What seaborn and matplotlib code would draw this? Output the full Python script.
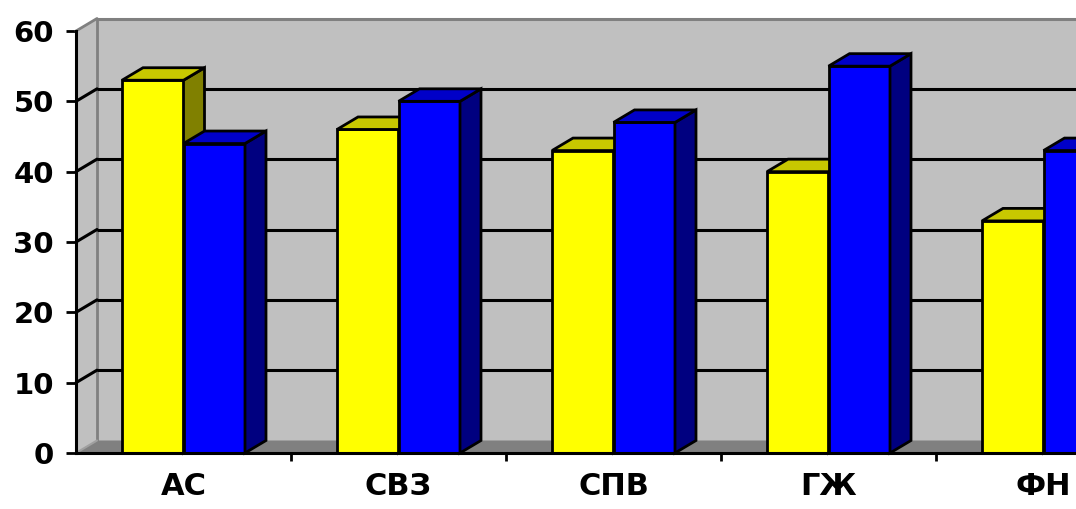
import matplotlib
matplotlib.use("Agg")
import matplotlib.pyplot as plt
from matplotlib.patches import Polygon
from matplotlib.ticker import FixedLocator
import numpy as np
import pandas as pd
import seaborn as sns

# Data
categories = ["АС", "СВЗ", "СПВ", "ГЖ", "ФН"]
series_names = ["Ряд 1", "Ряд 2"]
series_1 = [53, 46, 43, 40, 33]
series_2 = [44, 50, 47, 55, 43]
y_ticks = [0, 10, 20, 30, 40, 50, 60]

front_colors = ["#FFFF00", "#0000FF"]
top_colors = ["#C8C800", "#0000C8"]
side_colors = ["#808000", "#000080"]

df = pd.DataFrame({
    "cat": categories * 2,
    "val": series_1 + series_2,
    "series": [series_names[0]] * len(categories) + [series_names[1]] * len(categories),
})

sns.set_theme(style="white")
plt.rcParams["font.family"] = ["DejaVu Sans"]

W, H = 1076, 509
fig = plt.figure(figsize=(W / 100, H / 100), dpi=100)
# axes front plane: x from 76px to 1151px (runs past the right edge), y from 453px to 31px
ax = fig.add_axes([76 / W, (H - 453) / H, 1075 / W, 422 / H])
ax.set_xlim(-0.5, 4.5)
ax.set_ylim(0, 60)

# depth offset of the 3D box, in data units
px_x = 5 / 1075.0
px_y = 60 / 422.0
dx = 21 * px_x
dy = 12.5 * px_y

wall = "#C0C0C0"
wall_edge = "#808080"
floor = "#808080"
x0, x1 = -0.5, 4.5

# back wall
ax.add_patch(Polygon([(x0 + dx, dy), (x1 + dx, dy), (x1 + dx, 60 + dy), (x0 + dx, 60 + dy)],
                     closed=True, facecolor=wall, edgecolor="none", zorder=0, clip_on=False))
ax.plot([x0 + dx, x1 + dx], [60 + dy, 60 + dy], color=wall_edge, lw=2.2, zorder=0.5, clip_on=False,
        solid_capstyle="butt")
# side wall
ax.add_patch(Polygon([(x0, 0), (x0 + dx, dy), (x0 + dx, 60 + dy), (x0, 60)],
                     closed=True, facecolor=wall, edgecolor="none", zorder=0, clip_on=False))
ax.plot([x0 + dx, x0 + dx], [dy, 60 + dy], color=wall_edge, lw=2, zorder=0.6, clip_on=False)
ax.plot([x0, x0 + dx], [60, 60 + dy], color=wall_edge, lw=2, zorder=0.6, clip_on=False)
# floor
ax.add_patch(Polygon([(x0, 0), (x0 + dx, dy), (x1 + dx, dy), (x1, 0)],
                     closed=True, facecolor=floor, edgecolor="none", zorder=0.7, clip_on=False))
ax.plot([x0, x0 + dx], [0, dy], color="#A0A0A0", lw=1.5, zorder=0.8)

# gridlines on back wall and side wall
for t in y_ticks[1:-1]:
    ax.plot([x0 + dx, x1 + dx], [t + dy, t + dy], color="black", lw=2.2, zorder=1, clip_on=False,
            solid_capstyle="butt")
    ax.plot([x0, x0 + dx], [t, t + dy], color="black", lw=2.2, zorder=1, clip_on=False)

# front faces of the columns
sns.barplot(data=df, x="cat", y="val", hue="series", palette=front_colors,
            hue_order=series_names, order=categories, width=0.572, gap=0,
            edgecolor="black", linewidth=2, legend=False, ax=ax, saturation=1)

bars = [p for p in ax.patches if hasattr(p, "get_width") and not isinstance(p, Polygon)]
n = len(categories)
for i, bar in enumerate(bars):
    s = i // n
    x = bar.get_x()
    w = bar.get_width()
    h = bar.get_height()
    z = 3 + s
    bar.set_zorder(z)
    top = Polygon([(x, h), (x + dx, h + dy), (x + w + dx, h + dy), (x + w, h)], closed=True,
                  facecolor=top_colors[s], edgecolor="black", linewidth=2, zorder=z,
                  joinstyle="miter", clip_on=False)
    side = Polygon([(x + w, 0), (x + w + dx, dy), (x + w + dx, h + dy), (x + w, h)], closed=True,
                   facecolor=side_colors[s], edgecolor="black", linewidth=2, zorder=z,
                   joinstyle="miter", clip_on=False)
    ax.add_patch(side)
    ax.add_patch(top)

# axes styling
for side_name in ["top", "right"]:
    ax.spines[side_name].set_visible(False)
for side_name in ["left", "bottom"]:
    ax.spines[side_name].set_visible(True)
    ax.spines[side_name].set_color("black")
    ax.spines[side_name].set_linewidth(2.2)
    ax.spines[side_name].set_zorder(6)
ax.set_facecolor("none")
ax.grid(False)

ax.set_yticks(y_ticks)
ax.set_yticklabels([str(t) for t in y_ticks], fontsize=21, fontweight="bold", color="black")
ax.tick_params(axis="y", direction="out", length=7, width=2, color="black", pad=9, left=True)

ax.set_xticks(range(n))
ax.set_xticklabels(categories, fontsize=22, fontweight="bold", color="black")
ax.tick_params(axis="x", which="major", length=0, pad=14)
ax.xaxis.set_minor_locator(FixedLocator(np.arange(0.5, n, 1.0)))
ax.tick_params(axis="x", which="minor", direction="out", length=6, width=2, color="black", bottom=True)
ax.set_xlabel("")
ax.set_ylabel("")

fig.savefig("out.png", dpi=100, facecolor="white")
